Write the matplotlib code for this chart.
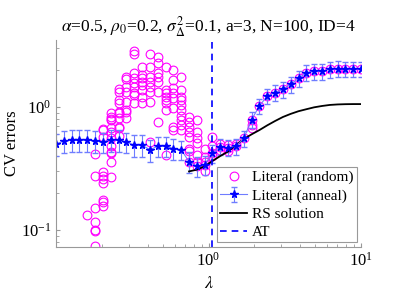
import matplotlib
matplotlib.use("Agg")
import matplotlib.pyplot as plt
import numpy as np

plt.rcParams['font.family'] = ['Liberation Serif', 'DejaVu Serif']
plt.rcParams['mathtext.fontset'] = 'stix'

# grille des lambda (40 points log)
lambdas = np.logspace(-1, 1, 40)

# CV errors, recuit (anneal), un point par lambda
anneal_cv = [0.50, 0.53, 0.54, 0.54, 0.54, 0.53, 0.52, 0.54, 0.54, 0.52,
             0.49, 0.49, 0.45, 0.48, 0.48, 0.46, 0.45, 0.36, 0.33, 0.34,
             0.42, 0.476, 0.467, 0.48, 0.556, 0.79, 1.02, 1.23, 1.31, 1.39,
             1.53, 1.71, 1.90, 1.95, 1.95, 2.03, 2.05, 2.04, 2.04, 2.04]
anneal_err = [0.10, 0.11, 0.11, 0.11, 0.11, 0.11, 0.10, 0.11, 0.11, 0.10,
              0.10, 0.10, 0.09, 0.09, 0.09, 0.09, 0.08, 0.07, 0.06, 0.06,
              0.07, 0.07, 0.07, 0.07, 0.08, 0.12, 0.15, 0.18, 0.19, 0.20,
              0.22, 0.25, 0.28, 0.29, 0.29, 0.30, 0.30, 0.30, 0.30, 0.30]

# initialisations aleatoires : indice de lambda -> valeurs
rand_idx = list(range(4, 24))
rand_cv = [
    [0.132],
    [0.415, 0.275, 0.150, 0.117, 0.101, 0.099, 0.075],
    [0.66, 0.57, 0.298, 0.275, 0.258, 0.24, 0.176, 0.168, 0.157, 0.65],
    [0.89, 0.825, 0.80, 0.78, 0.67, 0.63, 0.56, 0.48, 0.43, 0.36, 0.268, 0.42],
    [1.39, 1.33, 1.14, 1.08, 0.92, 0.89, 0.81, 0.69, 0.58, 0.67],
    [1.74, 1.68, 1.46, 1.33, 1.10, 0.945, 0.92, 0.81],
    [2.87, 2.70, 1.88, 1.71, 1.56, 1.46, 1.29, 1.25, 1.07],
    [2.13, 1.82, 1.71, 1.60, 1.51, 1.37, 1.21, 1.07],
    [2.70, 2.13, 1.76, 1.60, 1.46, 1.33, 1.10, 0.52],
    [2.56, 2.26, 1.88, 1.76, 1.60, 1.33, 0.76],
    [2.10, 1.37, 1.29, 1.21, 1.14, 1.07, 0.945, 0.41],
    [2.0, 1.66, 1.42, 1.29, 1.18, 0.975, 0.69, 0.65],
    [1.74, 1.37, 1.21, 1.14, 1.04, 0.945, 0.85, 0.78, 0.71, 0.65],
    [0.83, 0.76, 0.69, 0.63, 0.57, 0.46, 0.44, 0.36],
    [0.78, 0.63, 0.56, 0.507, 0.41, 0.36, 0.33],
    [0.46, 0.39, 0.36, 0.34, 0.30],
    [0.57, 0.48, 0.42, 0.40],
    [0.50, 0.476, 0.45],
    [0.49, 0.467, 0.44],
    [0.50, 0.48],
]
# au-dela, les initialisations aleatoires convergent vers le recuit
rand_extra = {25: [0.72, 0.68]}

# solution RS (a partir de l'indice 17)
rs_start = 17
rs_cv = [0.30, 0.31, 0.33, 0.365, 0.40, 0.435, 0.49, 0.55, 0.60, 0.65,
         0.71, 0.77, 0.83, 0.88, 0.925, 0.96, 0.995, 1.02, 1.04, 1.05,
         1.055, 1.057, 1.057]

lambda_AT = 1.055

fig = plt.figure(figsize=(3.99, 2.99), dpi=100)
ax = fig.add_axes([0.1404, 0.174, 0.7646, 0.692])

# points aleatoires
rx, ry = [], []
for k, vals in zip(rand_idx, rand_cv):
    rx += [lambdas[k]] * len(vals)
    ry += vals
for k in range(24, 40):
    rx.append(lambdas[k])
    ry.append(anneal_cv[k])
for k, vals in rand_extra.items():
    rx += [lambdas[k]] * len(vals)
    ry += vals
h_rand, = ax.plot(rx, ry, 'o', color='#ff00ff', mfc='none', ms=6.3, mew=0.8)

h_ann = ax.errorbar(lambdas, anneal_cv, yerr=anneal_err, fmt='-', color='#6f7dff',
                    lw=0.8, elinewidth=0.8, capsize=2, marker='*', ms=5.5,
                    mfc='b', mec='b')
h_rs, = ax.plot(lambdas[rs_start:], rs_cv, 'k-', lw=1.3)
h_at = ax.axvline(lambda_AT, color='b', ls='--', lw=1.2, dashes=(4, 3))

ax.set_xscale('log')
ax.set_yscale('log')
ax.set_xlim(0.1, 10)
ax.set_ylim(0.073, 3.5)
ax.set_xticks([1, 10])

for s in ['top', 'right']:
    ax.spines[s].set_visible(False)
for s in ['left', 'bottom']:
    ax.spines[s].set_color('#999999')
ax.tick_params(which='both', direction='in', color='#999999', labelsize=12)
ax.tick_params(which='major', length=3)
ax.tick_params(which='minor', length=2)

ax.set_xlabel(r'$\lambda$', fontsize=13, labelpad=4)
ax.set_ylabel('CV errors', fontsize=12)
ax.yaxis.set_label_coords(-0.118, 0.5)
ax.set_title(r'$\alpha$=0.5, $\rho_0$=0.2, $\sigma^2_\Delta$=0.1, a=3, N=100, ID=4',
             fontsize=12.5, pad=6)

leg = ax.legend([h_rand, h_ann, h_rs, h_at],
                ['Literal (random)', 'Literal (anneal)', 'RS solution', 'AT'],
                loc='lower right', fontsize=11, frameon=True, fancybox=False,
                edgecolor='#999999', framealpha=1, borderpad=0.2,
                labelspacing=0.3, handlelength=1.8, handletextpad=0.3,
                borderaxespad=0.3)
leg.get_frame().set_linewidth(0.8)

fig.savefig('out.png', dpi=100)
